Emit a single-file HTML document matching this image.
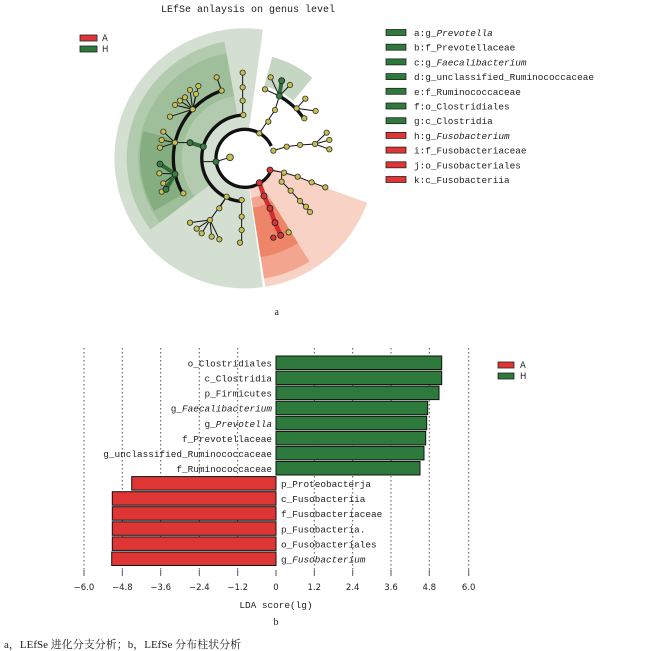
<!DOCTYPE html>
<html><head><meta charset="utf-8"><style>
html,body{margin:0;padding:0;background:#fff;}
svg{display:block;}
.m{font-family:"Liberation Mono","Noto Serif CJK SC",monospace;font-size:9.4px;fill:#222;}
.s{font-family:"DejaVu Sans","Liberation Sans",sans-serif;font-size:8.5px;fill:#222;}
</style></head><body>
<svg width="664" height="651" viewBox="0 0 664 651" xmlns="http://www.w3.org/2000/svg">
<rect width="664" height="651" fill="#fff"/>
<text x="248" y="12" text-anchor="middle" class="m" style="font-size:10px">LEfSe anlaysis on genus level</text>
<rect x="80" y="35" width="17" height="6" fill="#e03535" stroke="#222" stroke-width="0.8"/>
<text x="102" y="41" class="s">A</text>
<rect x="80" y="46" width="17" height="6" fill="#2e7a3c" stroke="#222" stroke-width="0.8"/>
<text x="102" y="52" class="s">H</text>

<g transform="translate(60,0) scale(0.33333)">
<path d="M555,475 L609,861 A390 390 0 1 1 609,89 Z" fill="#d3dfd0"/>
<path d="M271.5,688.6 A355 355 0 0 1 493.4,125.4 L531.6,342.1 A135 135 0 0 0 447.2,556.2 Z" fill="#b2cbae"/>
<path d="M299.4,667.6 A320 320 0 0 1 499.4,159.9 L522,287.9 A190 190 0 0 0 403.3,589.3 Z" fill="#9ebf99"/>
<path d="M282.2,632.5 A315 315 0 0 1 250.7,393.5 L347.3,419.4 A215 215 0 0 0 368.8,582.5 Z" fill="#85ae80"/>
<path d="M636.5,170.7 A315 315 0 0 1 757.5,233.7 L699.6,302.6 A225 225 0 0 0 613.2,257.7 Z" fill="#c5d6c2"/>
<path d="M555,475 L921.5,608.4 A390 390 0 0 1 616,860.2 Z" fill="#f8d2c4"/>
<path d="M748.4,784.5 A365 365 0 0 1 612.1,835.5 L573.8,593.5 A120 120 0 0 0 618.6,576.8 Z" fill="#f3a58f"/>
<path d="M714,729.4 A300 300 0 0 1 602,771.3 L578.5,623.2 A150 150 0 0 0 634.5,602.2 Z" fill="#ee8468"/>
<circle cx="555" cy="475" r="87" fill="#fff"/>
<g stroke="#111" fill="none" stroke-width="10">
<path d="M630.3,518.5 A87 87 0 1 1 633.8,438.2"/>
<path d="M543.7,604.5 A130 130 0 0 1 550.5,345.1"/>
<path d="M368.8,582.5 A215 215 0 0 1 478,274.3"/>
<path d="M655,286.9 A213 213 0 0 1 731.6,355.9"/>
</g>
<g stroke="#111" fill="none" stroke-width="3">
<path d="M548,218 L548,345 M470,232 L485,272 L478,274"/>
<path d="M398,328 L415,258 M398,328 L390,270 M398,328 L408,282 M398,328 L375,292 M398,328 L360,302 M398,328 L345,315 M398,328 L330,350"/>
<path d="M345,428 L310,395 M345,428 L305,420 M345,428 L300,443 M345,428 L390,428"/>
<path d="M468,485 L510,472 M468,485 L430,485"/>
<path d="M598,400 L645,330 L658,288 M658,288 L632,232 M658,288 L615,268 M658,288 L690,255 M658,288 L665,242"/>
<path d="M710,325 L736,296 M710,325 L767,333 M710,325 L733,355"/>
<path d="M640,452 L680,440 L720,435 L765,432 L800,398 M765,432 L808,420 M765,432 L808,448"/>
<path d="M630,510 L672,518 L713,530 L755,547 L796,562"/>
<path d="M665,545 L692,572 L720,603 L738,620 M720,603 L750,636 M665,520 L665,545"/>
<path d="M500,590 L478,625 M545,600 L545,728 M500,590 L450,660 L390,668 M450,660 L410,686 M450,660 L425,700 M450,660 L455,710 M450,660 L478,718"/>
<path d="M345,522 L370,580 M345,522 L300,498 M345,522 L298,520 M345,522 L310,550 M345,522 L305,575"/>
</g>
<g stroke="#2e6b35" stroke-width="12" stroke-linecap="round">
<path d="M390,428 L430,440"/><path d="M665,242 L658,288"/><path d="M345,522 L318,568"/><path d="M345,522 L300,492"/>
</g>
<path d="M598,548 L612,588 L630,625 L645,668 L662,706" stroke="#d23030" stroke-width="14" stroke-linecap="round"/>
<g fill="#c7c04f" stroke="#333" stroke-width="2.5">
<circle cx="548" cy="218" r="8"/><circle cx="548" cy="262" r="8"/><circle cx="548" cy="302" r="8"/><circle cx="550" cy="345" r="8"/>
<circle cx="470" cy="232" r="8"/><circle cx="485" cy="272" r="8"/><circle cx="415" cy="258" r="8"/><circle cx="390" cy="270" r="8"/>
<circle cx="408" cy="282" r="8"/><circle cx="375" cy="292" r="8"/><circle cx="360" cy="302" r="8"/><circle cx="345" cy="315" r="8"/>
<circle cx="330" cy="350" r="8"/><circle cx="398" cy="328" r="8"/><circle cx="310" cy="395" r="8"/><circle cx="305" cy="420" r="8"/>
<circle cx="300" cy="443" r="8"/><circle cx="345" cy="428" r="8"/><circle cx="510" cy="472" r="10"/><circle cx="598" cy="400" r="8"/>
<circle cx="632" cy="232" r="8"/><circle cx="615" cy="268" r="8"/><circle cx="690" cy="255" r="8"/><circle cx="645" cy="330" r="8"/>
<circle cx="625" cy="365" r="8"/><circle cx="736" cy="296" r="8"/><circle cx="767" cy="333" r="8"/><circle cx="733" cy="355" r="8"/>
<circle cx="710" cy="325" r="8"/><circle cx="800" cy="398" r="8"/><circle cx="808" cy="420" r="8"/><circle cx="808" cy="448" r="8"/>
<circle cx="765" cy="432" r="8"/><circle cx="720" cy="435" r="8"/><circle cx="680" cy="440" r="8"/><circle cx="640" cy="452" r="8"/>
<circle cx="672" cy="518" r="8"/><circle cx="713" cy="530" r="8"/><circle cx="755" cy="547" r="8"/><circle cx="796" cy="562" r="8"/>
<circle cx="665" cy="545" r="8"/><circle cx="692" cy="572" r="8"/><circle cx="720" cy="603" r="8"/><circle cx="738" cy="620" r="8"/>
<circle cx="750" cy="636" r="8"/><circle cx="545" cy="600" r="8"/><circle cx="500" cy="590" r="8"/><circle cx="478" cy="625" r="8"/>
<circle cx="545" cy="650" r="8"/><circle cx="545" cy="690" r="8"/><circle cx="540" cy="728" r="8"/><circle cx="450" cy="660" r="8"/>
<circle cx="390" cy="668" r="8"/><circle cx="410" cy="686" r="8"/><circle cx="425" cy="700" r="8"/><circle cx="455" cy="710" r="8"/>
<circle cx="478" cy="718" r="8"/><circle cx="370" cy="580" r="8"/><circle cx="298" cy="520" r="8"/><circle cx="310" cy="550" r="8"/>
<circle cx="305" cy="575" r="8"/><circle cx="686" cy="697" r="8"/>
</g>
<g fill="#3a7d44" stroke="#222" stroke-width="2.5">
<circle cx="390" cy="428" r="9"/><circle cx="430" cy="440" r="9"/><circle cx="468" cy="485" r="9"/><circle cx="300" cy="492" r="9"/>
<circle cx="345" cy="522" r="9"/><circle cx="318" cy="568" r="9"/><circle cx="665" cy="242" r="9"/><circle cx="658" cy="288" r="9"/>
</g>
<g fill="#d83535" stroke="#222" stroke-width="2.5">
<circle cx="598" cy="548" r="9"/><circle cx="612" cy="588" r="9"/><circle cx="630" cy="625" r="9"/><circle cx="645" cy="668" r="9"/>
<circle cx="662" cy="706" r="9"/><circle cx="630" cy="510" r="9"/><circle cx="640" cy="713" r="8"/>
</g>
<text x="650" y="945" text-anchor="middle" style="font-family:'Liberation Serif',serif;font-size:30px" fill="#222">a</text>
</g>

<g class="m">
<rect x="386" y="29.5" width="20" height="6" fill="#2e7a3c" stroke="#222" stroke-width="0.8"/><text x="414" y="36">a:g_<tspan font-style="italic">Prevotella</tspan></text>
<rect x="386" y="44.2" width="20" height="6" fill="#2e7a3c" stroke="#222" stroke-width="0.8"/><text x="414" y="50.7">b:f_Prevotellaceae</text>
<rect x="386" y="58.9" width="20" height="6" fill="#2e7a3c" stroke="#222" stroke-width="0.8"/><text x="414" y="65.4">c:g_<tspan font-style="italic">Faecalibacterium</tspan></text>
<rect x="386" y="73.6" width="20" height="6" fill="#2e7a3c" stroke="#222" stroke-width="0.8"/><text x="414" y="80.1">d:g_unclassified_Ruminococcaceae</text>
<rect x="386" y="88.3" width="20" height="6" fill="#2e7a3c" stroke="#222" stroke-width="0.8"/><text x="414" y="94.8">e:f_Ruminococcaceae</text>
<rect x="386" y="103" width="20" height="6" fill="#2e7a3c" stroke="#222" stroke-width="0.8"/><text x="414" y="109.5">f:o_Clostridiales</text>
<rect x="386" y="117.7" width="20" height="6" fill="#2e7a3c" stroke="#222" stroke-width="0.8"/><text x="414" y="124.2">g:c_Clostridia</text>
<rect x="386" y="132.4" width="20" height="6" fill="#e03535" stroke="#222" stroke-width="0.8"/><text x="414" y="138.9">h:g_<tspan font-style="italic">Fusobacterium</tspan></text>
<rect x="386" y="147.1" width="20" height="6" fill="#e03535" stroke="#222" stroke-width="0.8"/><text x="414" y="153.6">i:f_Fusobacteriaceae</text>
<rect x="386" y="161.8" width="20" height="6" fill="#e03535" stroke="#222" stroke-width="0.8"/><text x="414" y="168.3">j:o_Fusobacteriales</text>
<rect x="386" y="176.5" width="20" height="6" fill="#e03535" stroke="#222" stroke-width="0.8"/><text x="414" y="183">k:c_Fusobacteriia</text>
</g>

<g stroke="#555" stroke-width="1" stroke-dasharray="1.5,2.5">
<line x1="84" y1="348" x2="84" y2="570"/><line x1="122.3" y1="348" x2="122.3" y2="570"/><line x1="160.7" y1="348" x2="160.7" y2="570"/>
<line x1="199.3" y1="348" x2="199.3" y2="570"/><line x1="237.7" y1="348" x2="237.7" y2="570"/><line x1="314.3" y1="348" x2="314.3" y2="570"/>
<line x1="352.7" y1="348" x2="352.7" y2="570"/><line x1="391" y1="348" x2="391" y2="570"/><line x1="429.3" y1="348" x2="429.3" y2="570"/>
<line x1="468.7" y1="348" x2="468.7" y2="570"/>
</g>
<g stroke="#555" stroke-width="1">
<line x1="84" y1="570" x2="84" y2="576"/><line x1="122.3" y1="570" x2="122.3" y2="576"/><line x1="160.7" y1="570" x2="160.7" y2="576"/>
<line x1="199.3" y1="570" x2="199.3" y2="576"/><line x1="237.7" y1="570" x2="237.7" y2="576"/><line x1="276" y1="570" x2="276" y2="576"/><line x1="314.3" y1="570" x2="314.3" y2="576"/>
<line x1="352.7" y1="570" x2="352.7" y2="576"/><line x1="391" y1="570" x2="391" y2="576"/><line x1="429.3" y1="570" x2="429.3" y2="576"/>
<line x1="468.7" y1="570" x2="468.7" y2="576"/>
</g>
<g stroke="#111" stroke-width="1" fill="#2e7a3c">
<rect x="276" y="356" width="165.7" height="13.5"/>
<rect x="276" y="371.1" width="165.7" height="13.5"/>
<rect x="276" y="386.1" width="163" height="13.5"/>
<rect x="276" y="401.2" width="151.7" height="13.5"/>
<rect x="276" y="416.3" width="150.7" height="13.5"/>
<rect x="276" y="431.4" width="149.7" height="13.5"/>
<rect x="276" y="446.4" width="148" height="13.5"/>
<rect x="276" y="461.5" width="144" height="13.5"/>
</g>
<g stroke="#111" stroke-width="1" fill="#e03535">
<rect x="131.7" y="476.6" width="144.3" height="13.5"/>
<rect x="112.3" y="491.7" width="163.7" height="13.5"/>
<rect x="112.3" y="506.7" width="163.7" height="13.5"/>
<rect x="112.3" y="521.8" width="163.7" height="13.5"/>
<rect x="112.3" y="536.9" width="163.7" height="13.5"/>
<rect x="111.7" y="552" width="164.3" height="13.5"/>
</g>
<g class="m" text-anchor="end">
<text x="272" y="366.5">o_Clostridiales</text>
<text x="272" y="381.6">c_Clostridia</text>
<text x="272" y="396.6">p_Firmicutes</text>
<text x="272" y="411.7">g_<tspan font-style="italic">Faecalibacterium</tspan></text>
<text x="272" y="426.8">g_<tspan font-style="italic">Prevotella</tspan></text>
<text x="272" y="441.9">f_Prevotellaceae</text>
<text x="272" y="456.9">g_unclassified_Ruminococcaceae</text>
<text x="272" y="472">f_Ruminococcaceae</text>
</g>
<g class="m">
<text x="281" y="487.1">p_Proteobacterja</text>
<text x="281" y="502.2">c_Fusobacteriia</text>
<text x="281" y="517.2">f_Fusobacteriaceae</text>
<text x="281" y="532.3">p_Fusobacteria.</text>
<text x="281" y="547.4">o_Fusobacteriales</text>
<text x="281" y="562.5">g_<tspan font-style="italic">Fusobacterium</tspan></text>
</g>
<g class="s" text-anchor="middle">
<text x="84" y="590">−6.0</text><text x="122.3" y="590">−4.8</text><text x="160.7" y="590">−3.6</text><text x="199.3" y="590">−2.4</text>
<text x="237.7" y="590">−1.2</text><text x="276" y="590">0</text><text x="314.3" y="590">1.2</text><text x="352.7" y="590">2.4</text>
<text x="391" y="590">3.6</text><text x="429.3" y="590">4.8</text><text x="468.7" y="590">6.0</text>
</g>
<text x="276" y="608" text-anchor="middle" class="m">LDA score(lg)</text>
<text x="276" y="625" text-anchor="middle" style="font-family:'Liberation Serif',serif;font-size:10px" fill="#222">b</text>
<rect x="498" y="362" width="16" height="6" fill="#e03535" stroke="#222" stroke-width="0.8"/>
<text x="520" y="368" class="s">A</text>
<rect x="498" y="373" width="16" height="6" fill="#2e7a3c" stroke="#222" stroke-width="0.8"/>
<text x="520" y="379" class="s">H</text>
<text x="4" y="648" style="font-family:'Liberation Serif','Noto Serif CJK SC',serif;font-size:11px" fill="#222">a，LEfSe 进化分支分析；b，LEfSe 分布柱状分析</text>
</svg>
</body></html>
